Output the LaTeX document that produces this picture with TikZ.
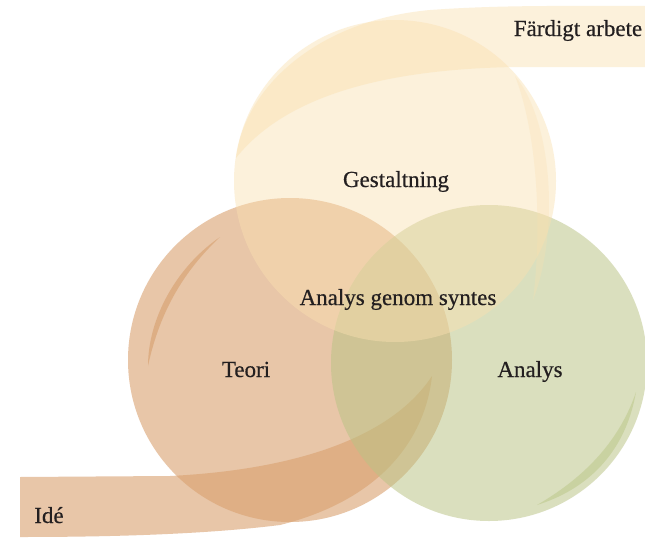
\documentclass[tikz,border=0pt]{standalone}
\usepackage{fontspec}
\setmainfont{Liberation Serif}
\newfontfamily\lblfont[FakeBold=0.5]{Liberation Serif}
\definecolor{ybase}{RGB}{250,224,176}
\definecolor{bbase}{RGB}{217,160,110}
\definecolor{gbase}{RGB}{185,195,132}
\definecolor{bdark}{RGB}{208,145,90}
\definecolor{gdark}{RGB}{175,190,115}
\definecolor{txt}{RGB}{35,31,32}
\begin{document}
\begin{tikzpicture}[x=1pt,y=-1pt,
  lbl/.style={font=\lblfont\fontsize{23}{27}\selectfont, text=txt, inner sep=0pt, anchor=base},
  yfill/.style={fill=ybase, fill opacity=0.45},
  bfill/.style={fill=bbase, fill opacity=0.6},
  gfill/.style={fill=gbase, fill opacity=0.52}]
\useasboundingbox (0,0) rectangle (645,538);
\fill[white] (0,0) rectangle (645,538);
% Teori circle
\fill[bfill] (290,360) circle [radius=162pt];
% Ide ribbon
\fill[bfill] (20,477) -- (170,476) .. controls (290,470) and (390,440) .. (432,376)
  .. controls (425,440) and (380,500) .. (280,525)
  .. controls (200,535) and (100,537) .. (20,537) -- cycle;
% crescent in Teori
\fill[fill=bdark, fill opacity=0.45] (148,366) .. controls (148,320) and (175,268) .. (220,237)
  .. controls (185,270) and (160,310) .. cycle;
% Analys circle
\fill[gfill] (489,363) circle [radius=158pt];
\fill[fill=gdark, fill opacity=0.38] (537,505) .. controls (585,490) and (625,455) .. (636,392)
  .. controls (618,445) and (580,480) .. cycle;
% Gestaltning circle
\fill[yfill] (395,181) circle [radius=161pt];
% Fardigt ribbon
\fill[yfill] (236,158) .. controls (245,85) and (320,20) .. (430,10)
  .. controls (500,5) and (560,6) .. (645,6) -- (645,67) -- (515,67)
  .. controls (400,69) and (290,90) .. cycle;
% crescent in Gestaltning
\fill[yfill, fill opacity=0.3] (515,76) .. controls (552,120) and (560,230) .. (533,300)
  .. controls (542,230) and (538,135) .. cycle;
% labels
\node[lbl] (fa) at (578,36) {Färdigt arbete};
\node[lbl] (ge) at (396,187) {Gestaltning};
\node[lbl] (ags) at (398,305) {Analys genom syntes};
\node[lbl] (te) at (246,377) {Teori};
\node[lbl] (an) at (530,377) {Analys};
\node[lbl] (id) at (49,523) {Idé};
\end{tikzpicture}
\end{document}
